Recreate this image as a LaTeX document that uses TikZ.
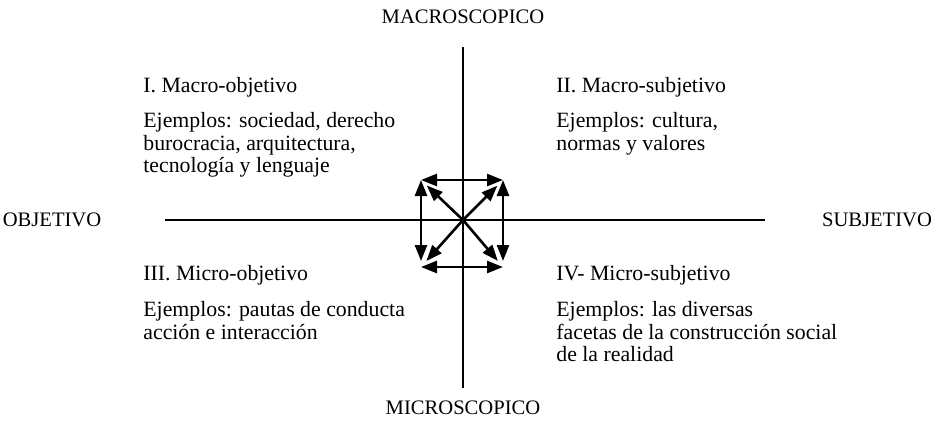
\documentclass[tikz,border=0pt]{standalone}
\usepackage{fontspec}
\setmainfont{Liberation Serif}
\usetikzlibrary{arrows.meta}

\tikzset{
  pole/.style={font=\fontsize{10.3}{12}\selectfont, inner sep=0pt},
  quad/.style={anchor=base west, inner sep=0pt,
    font=\fontsize{10.9}{11.3}\selectfont},
  quadex/.style={quad, anchor=north west, align=left},
  axis/.style={line width=0.9pt},
  tip/.tip={Triangle[length=8pt,width=6pt]},
  link/.style={line width=1.3pt, tip-tip},
  ray/.style={line width=1.3pt, -tip}
}

\begin{document}
\begin{tikzpicture}[x=0.5pt,y=-0.5pt]
    \useasboundingbox (0,0) rectangle (939,424);

    % poles
    \node[pole] (macro) at (463,17) {MACROSCOPICO};
    \node[pole] (micro) at (463,408) {MICROSCOPICO};
    \node[pole] (obj) at (52,220) {OBJETIVO};
    \node[pole] (subj) at (877,220) {SUBJETIVO};

    % axes
    \coordinate (axtop) at (463,47);
    \coordinate (axbot) at (463,388);
    \coordinate (axleft) at (165,220);
    \coordinate (axright) at (765,220);
    \draw[axis] (axtop) -- (axbot);
    \draw[axis] (axleft) -- (axright);

    % quadrants
    \node[quad] (q1) at (143,92) {I. Macro-objetivo};
    \node[quadex] (q1ex) at (143,112) {Ejemplos: sociedad, derecho\\burocracia, arquitectura,\\tecnología y lenguaje};
    \node[quad] (q2) at (556,92) {II. Macro-subjetivo};
    \node[quadex] (q2ex) at (556,112) {Ejemplos: cultura,\\normas y valores};
    \node[quad] (q3) at (143,280) {III. Micro-objetivo};
    \node[quadex] (q3ex) at (143,301) {Ejemplos: pautas de conducta\\acción e interacción};
    \node[quad] (q4) at (556,280) {IV- Micro-subjetivo};
    \node[quadex] (q4ex) at (556,301) {Ejemplos: las diversas\\facetas de la construcción social\\de la realidad};

    % arrows between the four levels
    \coordinate (c) at (463,220);
    \coordinate (tl) at (421,180);
    \coordinate (tr) at (503,180);
    \coordinate (bl) at (421,267);
    \coordinate (br) at (503,267);
    \draw[link] (tl) -- (tr);
    \draw[link] (bl) -- (br);
    \draw[link, shorten >=3pt] (tl) -- (bl);
    \draw[link, shorten >=3pt] (tr) -- (br);
    \foreach \k in {tl,tr,bl,br}
      \draw[ray, shorten >=4pt] (c) -- (\k);
\end{tikzpicture}
\end{document}
